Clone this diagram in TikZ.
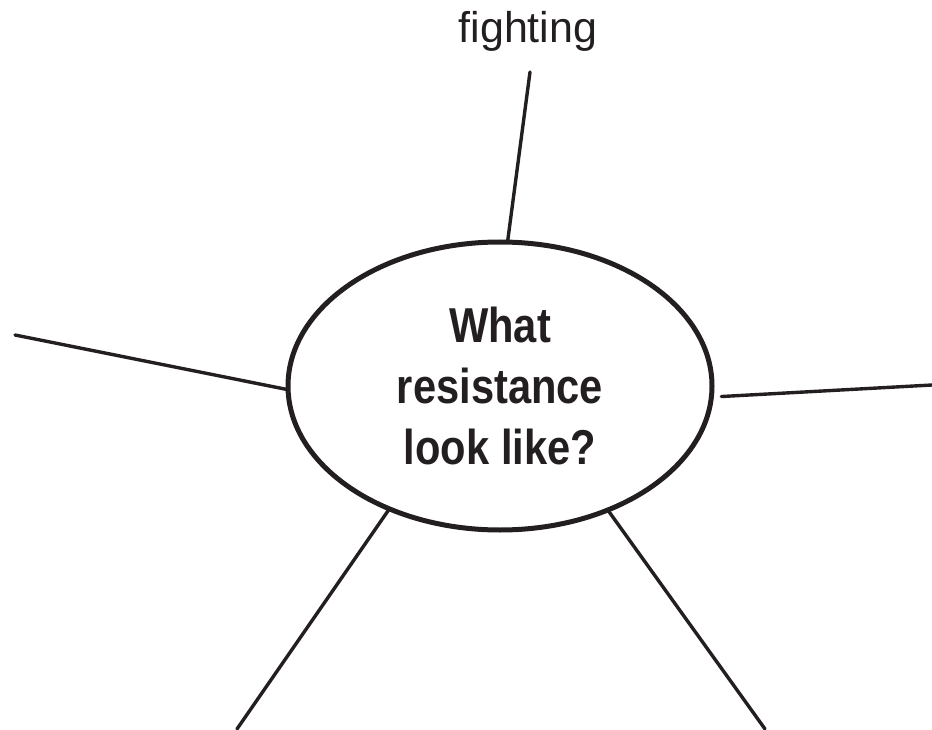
\documentclass[tikz,border=0pt]{standalone}
\usepackage{fontspec}
\setmainfont{Liberation Sans}
\newfontfamily\hubfont[FakeStretch=0.85]{Liberation Sans}
\usetikzlibrary{shapes.geometric}
\definecolor{ink}{HTML}{231F20}
\tikzset{
  spoke/.style={draw=ink, line width=3.4pt, line cap=round},
  hub/.style={draw=ink, text=ink, ellipse, line width=5pt, inner sep=0pt, outer sep=0pt,
    minimum width=424pt, minimum height=288pt, align=center,
    font=\hubfont\fontsize{49}{61}\selectfont\bfseries},
  label/.style={text=ink, font=\fontsize{43}{50}\selectfont, inner sep=0pt, anchor=base}
}
\begin{document}
\begin{tikzpicture}[x=1pt,y=-1pt]
\useasboundingbox (0,0) rectangle (932,730);
\node[hub] (c) at (500,386) {What\\resistance\\look like?};
\node[label] (f) at (528,43) {fighting};
\coordinate (t) at (530,72);
\coordinate (l) at (15,335);
\coordinate (r) at (932,385);
\coordinate (bl) at (237,729);
\coordinate (br) at (765,729);
\draw[spoke] (c.87) -- (t);
\draw[spoke] (c.181) -- (l);
\draw[spoke, shorten <=10pt] (c.-3) -- (r);
\draw[spoke] (c.228) -- (bl);
\draw[spoke] (c.-49) -- (br);
\end{tikzpicture}
\end{document}
